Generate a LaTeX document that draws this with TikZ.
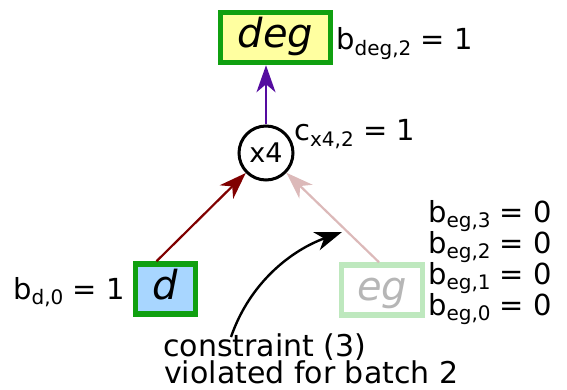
\documentclass[tikz,border=0pt]{standalone}
\usepackage{fontspec}
\setmainfont{DejaVu Sans}[ItalicFont={DejaVu Sans Oblique}]
\usetikzlibrary{arrows.meta}

\definecolor{boxgreen}{RGB}{16,160,16}
\definecolor{paleyellow}{RGB}{255,255,160}
\definecolor{paleblue}{RGB}{168,214,255}
\definecolor{fadegreen}{RGB}{190,232,190}
\definecolor{fadegray}{RGB}{182,182,182}
\definecolor{edgepurple}{RGB}{85,12,160}
\definecolor{edgered}{RGB}{128,0,0}
\definecolor{edgepink}{RGB}{220,185,185}

% subscript in a smaller size, lowered below the baseline
\newcommand\lowidx[1]{\raisebox{-5.5pt}{\fontsize{20}{20}\selectfont #1}}

\tikzset{
  varbox/.style={draw=boxgreen, line width=5.5pt, minimum height=50pt,
    inner sep=0pt, font=\fontsize{40}{40}\selectfont\itshape,
    text height=29pt, text depth=9pt},
  opnode/.style={circle, draw=black, line width=3pt, minimum size=54pt,
    inner sep=0pt, font=\fontsize{27}{27}\selectfont},
  label/.style={anchor=base west, inner sep=0pt, font=\fontsize{29}{29}\selectfont},
  note/.style={anchor=base west, inner sep=0pt, font=\fontsize{30}{30}\selectfont},
  tip/.style={-{Stealth[length=27pt, width=19pt, inset=8pt]}},
}

\begin{document}
\begin{tikzpicture}[x=1pt, y=-1pt]
  \useasboundingbox (0,0) rectangle (567,390);

  % variable boxes
  \node[varbox, fill=paleyellow, minimum width=110pt] (deg) at (275.5,37.5) {deg};
  \node[varbox, fill=paleblue, minimum width=60pt] (d) at (165.5,289) {d};
  \node[varbox, draw=fadegreen, text=fadegray, minimum width=81pt] (eg) at (382,290) {eg};

  % operation node
  \node[opnode] (x4) at (266,153) {x4};

  % labels
  \node[label] (bdeg) at (336,50) {b\lowidx{deg,2} = 1};
  \node[label] (cx4) at (294,141) {c\lowidx{x4,2} = 1};
  \node[label] (bd) at (13,299) {b\lowidx{d,0} = 1};
  \node[label] (beg3) at (428,222) {b\lowidx{eg,3} = 0};
  \node[label] (beg2) at (428,253) {b\lowidx{eg,2} = 0};
  \node[label] (beg1) at (428,284) {b\lowidx{eg,1} = 0};
  \node[label] (beg0) at (428,315) {b\lowidx{eg,0} = 0};

  \node[note] (cons1) at (163,356) {constraint (3)};
  \node[note] (cons2) at (164,383) {violated for batch 2};

  % edges
  \draw[tip, edgepurple, line width=2.2pt] (x4.north) -- (x4.north |- deg.south);
  \draw[tip, edgered, line width=2.2pt] ([xshift=-9pt]d.north) -- (x4);
  \draw[tip, edgepink, line width=2.2pt] ([xshift=-3pt]eg.north) -- (x4);

  % pointer from the note to the faded edge
  \coordinate (ctail) at (231,337);
  \coordinate (chead) at (342,232);
  \draw[tip, black, line width=2.4pt] (ctail) .. controls (250,282) and (292,250) .. (chead);
\end{tikzpicture}
\end{document}
